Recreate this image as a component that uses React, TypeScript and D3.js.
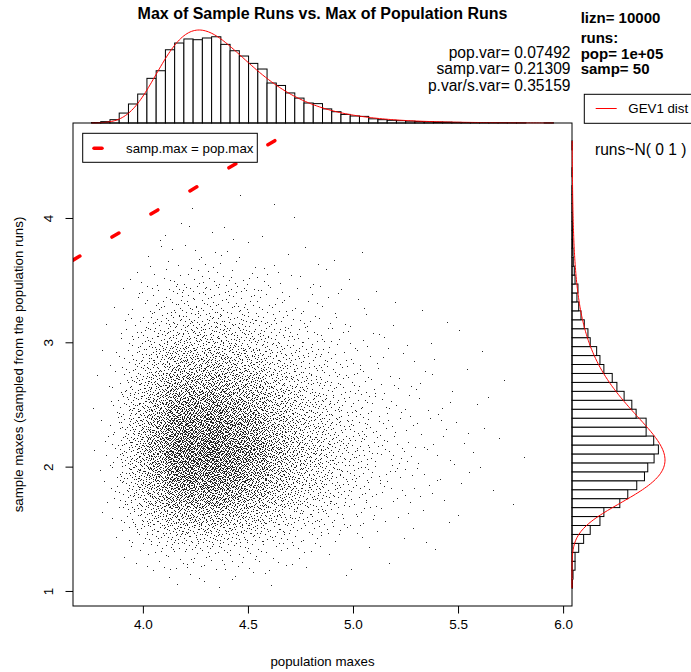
import React, { useMemo } from 'react';
import * as d3 from 'd3';

// ---------------- data ----------------
const N_RUNS = 10000;
const popVar = 0.07492;
const sampVar = 0.21309;
const varRatio = 0.35159;
const infoLines = ['lizn= 10000', 'runs:', 'pop= 1e+05', 'samp= 50'];

// population maxes: 50 equal bins over [popMin, popMax]
const popMin = 3.753;
const popMax = 5.952;
const popCounts = [
  4, 11, 27, 81, 155, 236, 364, 426, 597, 652,
  685, 679, 693, 703, 641, 589, 546, 486, 440, 326,
  306, 245, 203, 163, 158, 115, 92, 70, 57, 54,
  34, 27, 22, 19, 15, 12, 11, 8, 7, 5,
  4, 3, 3, 2, 2, 1, 1, 0, 0, 1,
];
// sample maxes: 50 equal bins over [sampMin, sampMax]
const sampMin = 1.027;
const sampMax = 4.624;
const sampCounts = [
  4, 8, 24, 24, 53, 92, 144, 221, 252, 378,
  441, 512, 573, 599, 649, 683, 646, 586, 586, 507,
  473, 412, 355, 318, 252, 221, 195, 144, 126, 97,
  71, 53, 39, 47, 24, 18, 10, 8, 6, 3,
  3, 2, 1, 1, 1, 0, 1, 0, 0, 1,
];
// GEV1 (Gumbel) fit locations
const popMode = 4.265;
const sampMode = 2.057;

const xTicks = [4.0, 4.5, 5.0, 5.5, 6.0];
const yTicks = [1, 2, 3, 4];

// ---------------- layout ----------------
const W = 691;
const H = 672;
const PL = 73, PR = 572, PT = 123, PB = 606;
const FONT = '"Liberation Sans", Arial, Helvetica, sans-serif';

function gumbel(v: number, mu: number, beta: number) {
  const z = (v - mu) / beta;
  return Math.exp(-(z + Math.exp(-z))) / beta;
}

function halton(i: number, b: number) {
  let f = 1, r = 0;
  while (i > 0) {
    f /= b;
    r += f * (i % b);
    i = Math.floor(i / b);
  }
  return r;
}

function invCdf(counts: number[], lo: number, hi: number) {
  const total = d3.sum(counts);
  const cum = Array.from(d3.cumsum(counts));
  const w = (hi - lo) / counts.length;
  return (u: number) => {
    const t = u * total;
    let i = d3.bisectRight(cum, t);
    if (i >= counts.length) i = counts.length - 1;
    const prev = i > 0 ? cum[i - 1] : 0;
    const frac = counts[i] ? (t - prev) / counts[i] : 0.5;
    return lo + (i + Math.min(1, Math.max(0, frac))) * w;
  };
}

export default function App() {
  const x = d3.scaleLinear().domain([3.665, 6.04]).range([PL, PR]);
  const y = d3.scaleLinear().domain([0.883, 4.768]).range([PB, PT]);

  const popBin = (popMax - popMin) / popCounts.length;
  const sampBin = (sampMax - sampMin) / sampCounts.length;
  const popBeta = Math.sqrt(6 * popVar) / Math.PI;
  const sampBeta = Math.sqrt(6 * sampVar) / Math.PI;
  const popPeak = (N_RUNS * popBin) / (popBeta * Math.E);
  const sampPeak = (N_RUNS * sampBin) / (sampBeta * Math.E);

  const hTop = d3.scaleLinear().domain([0, popPeak]).range([PT, 30]);
  const hRight = d3.scaleLinear().domain([0, sampPeak]).range([PR, 665]);

  const points = useMemo(() => {
    const fx = invCdf(popCounts, popMin, popMax);
    const fy = invCdf(sampCounts, sampMin, sampMax);
    let d = '';
    for (let k = 1; k <= N_RUNS; k++) {
      const px = fx(halton(k + 17, 2));
      const py = fy(halton(k + 17, 3));
      if (py >= px) continue;
      const sx = Math.round(x(px));
      const sy = Math.round(y(py));
      d += `M${sx},${sy}h1v1h-1z`;
    }
    return d;
  }, []);

  const popCurve = d3
    .line<number>()
    .x((v) => x(v))
    .y((v) => hTop(N_RUNS * popBin * gumbel(v, popMode, popBeta)))(
    d3.range(0, 301).map((i) => popMin + ((popMax - popMin) * i) / 300)
  );
  const sampCurve = d3
    .line<number>()
    .x((v) => hRight(N_RUNS * sampBin * gumbel(v, sampMode, sampBeta)))
    .y((v) => y(v))(
    d3.range(0, 301).map((i) => sampMin + ((sampMax - sampMin) * i) / 300)
  );

  const lineStart = x.domain()[0];
  const lineEnd = y.domain()[1];

  return (
    <svg
      width={W}
      height={H}
      style={{ position: 'absolute', left: 0, top: 0, background: '#fff' }}
      fontFamily={FONT}
    >
      <defs>
        <clipPath id="plotclip">
          <rect x={PL} y={PT} width={PR - PL} height={PB - PT} />
        </clipPath>
      </defs>
      <rect x={0} y={0} width={W} height={H} fill="#fff" />

      {/* title */}
      <text x={(PL + PR) / 2} y={19} textAnchor="middle" fontSize={16} fontWeight="bold">
        Max of Sample Runs vs. Max of Population Runs
      </text>

      {/* top histogram */}
      <g fill="#fff" stroke="#000" strokeWidth={1}>
        {popCounts.map((c, i) =>
          c > 0 ? (
            <rect
              key={i}
              x={x(popMin + i * popBin)}
              y={hTop(c)}
              width={x(popMin + (i + 1) * popBin) - x(popMin + i * popBin)}
              height={PT - hTop(c)}
            />
          ) : null
        )}
      </g>
      <path d={popCurve || ''} fill="none" stroke="#ff0000" strokeWidth={1} />

      {/* right histogram */}
      <g fill="#fff" stroke="#000" strokeWidth={1}>
        {sampCounts.map((c, k) =>
          c > 0 ? (
            <rect
              key={k}
              x={PR}
              y={y(sampMin + (k + 1) * sampBin)}
              width={hRight(c) - PR}
              height={y(sampMin + k * sampBin) - y(sampMin + (k + 1) * sampBin)}
            />
          ) : null
        )}
      </g>

      {/* scatter */}
      <path d={points} fill="#000" fillOpacity={0.85} shapeRendering="crispEdges" />

      {/* y = x reference line */}
      <g clipPath="url(#plotclip)">
        <line
          x1={x(lineStart)}
          y1={y(lineStart)}
          x2={x(lineEnd)}
          y2={y(lineEnd)}
          stroke="#ff0000"
          strokeWidth={3.5}
          strokeDasharray="8 37.3"
          strokeLinecap="round"
        />
      </g>

      {/* plot box */}
      <rect x={PL} y={PT} width={PR - PL} height={PB - PT} fill="none" stroke="#000" strokeWidth={1} />
      <path d={sampCurve || ''} fill="none" stroke="#ff0000" strokeWidth={1} />

      {/* x axis */}
      {xTicks.map((t) => (
        <g key={t}>
          <line x1={x(t)} x2={x(t)} y1={PB} y2={PB + 7.5} stroke="#000" />
          <text x={x(t)} y={629} textAnchor="middle" fontSize={13.5} fill="#000">
            {t.toFixed(1)}
          </text>
        </g>
      ))}
      <text x={(PL + PR) / 2} y={666} textAnchor="middle" fontSize={13.3}>
        population maxes
      </text>

      {/* y axis */}
      {yTicks.map((t) => (
        <g key={t}>
          <line x1={PL} x2={PL - 7.5} y1={y(t)} y2={y(t)} stroke="#000" />
          <text
            transform={`translate(53,${y(t)}) rotate(-90)`}
            textAnchor="middle"
            fontSize={13.5}
          >
            {t}
          </text>
        </g>
      ))}
      <text
        transform={`translate(23,${(PT + PB) / 2}) rotate(-90)`}
        textAnchor="middle"
        fontSize={13.3}
      >
        sample maxes (sampled from the population runs)
      </text>

      {/* legend: reference line */}
      <rect x={82.7} y={133.3} width={174.6} height={29} fill="#fff" stroke="#000" />
      <line x1={94} y1={148.3} x2={102} y2={148.3} stroke="#ff0000" strokeWidth={3.5} strokeLinecap="round" />
      <text x={126} y={153} fontSize={13.3}>
        samp.max = pop.max
      </text>

      {/* variance stats */}
      <g fontSize={15.6} textAnchor="end">
        <text x={570.5} y={57.5}>pop.var= {popVar.toFixed(5)}</text>
        <text x={570.5} y={74}>samp.var= {sampVar.toFixed(5)}</text>
        <text x={570.5} y={90.5}>p.var/s.var= {varRatio.toFixed(5)}</text>
      </g>

      {/* run info */}
      <g fontSize={15} fontWeight="bold">
        <text x={580.7} y={22.7}>{infoLines[0]}</text>
        <text x={580.7} y={43}>{infoLines[1]}</text>
        <text x={580.7} y={58.5}>{infoLines[2]}</text>
        <text x={580.7} y={74}>{infoLines[3]}</text>
      </g>

      {/* legend: GEV1 dist */}
      <rect x={584.3} y={94.3} width={140} height={29} fill="#fff" stroke="#000" />
      <line x1={595.7} x2={616.7} y1={108.5} y2={108.5} stroke="#ff0000" strokeWidth={1} />
      <text x={628.3} y={112.7} fontSize={13.3}>
        GEV1 dist
      </text>
      <text x={595} y={155} fontSize={15.6}>
        runs~N( 0 1 )
      </text>
    </svg>
  );
}
